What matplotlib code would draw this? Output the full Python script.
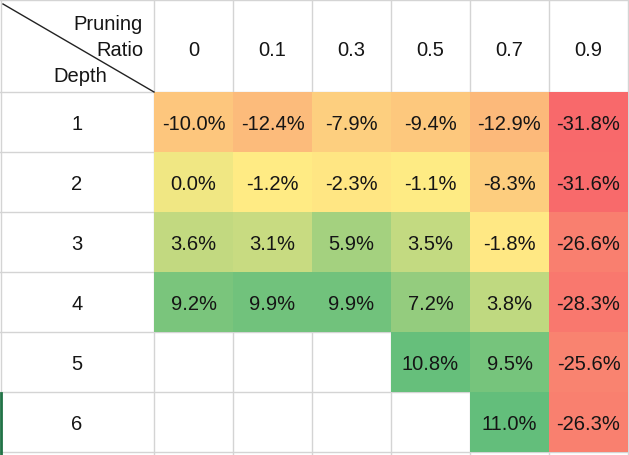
import numpy as np
import matplotlib.pyplot as plt
from matplotlib.patches import Rectangle
from matplotlib.colors import to_rgb

# Pruning ratio columns and depth rows
ratios = ["0", "0.1", "0.3", "0.5", "0.7", "0.9"]
depths = ["1", "2", "3", "4", "5", "6"]

# relative change (%) per depth row, nan = empty cell
row_d1 = [-10.0, -12.4, -7.9, -9.4, -12.9, -31.8]
row_d2 = [0.0, -1.2, -2.3, -1.1, -8.3, -31.6]
row_d3 = [3.6, 3.1, 5.9, 3.5, -1.8, -26.6]
row_d4 = [9.2, 9.9, 9.9, 7.2, 3.8, -28.3]
row_d5 = [np.nan, np.nan, np.nan, 10.8, 9.5, -25.6]
row_d6 = [np.nan, np.nan, np.nan, np.nan, 11.0, -26.3]
values = np.array([row_d1, row_d2, row_d3, row_d4, row_d5, row_d6])

# excel style 3 colour scale: min red, median yellow, max green
c_lo = np.array(to_rgb("#F8696B"))
c_mid = np.array(to_rgb("#FFEB84"))
c_hi = np.array(to_rgb("#63BE7B"))
vals = values[~np.isnan(values)]
vmin, vmed, vmax = vals.min(), np.median(vals), vals.max()

def cell_color(v):
    if v <= vmed:
        t = (v - vmin) / (vmed - vmin)
        return c_lo + t * (c_mid - c_lo)
    t = (v - vmed) / (vmax - vmed)
    return c_mid + t * (c_hi - c_mid)

W, H = 629, 456
fig = plt.figure(figsize=(W / 100, H / 100), dpi=100)
ax = fig.add_axes([0, 0, 1, 1])
ax.set_xlim(0, W)
ax.set_ylim(H, 0)
ax.axis("off")

font = "Liberation Sans"
fs = 14.5
txt_c = "#151515"
grid_c = "#D4D4D4"

# cell edges (pixel layout of the sheet)
x_edges = [0.5, 154] + [154 + 79 * (k + 1) for k in range(len(ratios))]
y_edges = [1, 93] + [93 + 60 * (k + 1) for k in range(len(depths))]

# grid lines
for x in x_edges:
    ax.plot([x, x], [0, H], color=grid_c, lw=1, zorder=1)
for y in y_edges:
    ax.plot([0, W], [y, y], color=grid_c, lw=1, zorder=1)

# coloured cells with labels
for i in range(len(depths)):
    for j in range(len(ratios)):
        v = values[i, j]
        if np.isnan(v):
            continue
        x0, x1 = x_edges[j + 1], x_edges[j + 2]
        y0, y1 = y_edges[i + 1], y_edges[i + 2]
        ax.add_patch(Rectangle((x0, y0), x1 - x0, y1 - y0,
                               facecolor=cell_color(v), edgecolor="none", zorder=2))
        ax.text((x0 + x1) / 2, (y0 + y1) / 2 + 2, f"{v:.1f}%", ha="center", va="center",
                fontsize=fs, family=font, color=txt_c, zorder=3)

# column headers
for j, r in enumerate(ratios):
    ax.text((x_edges[j + 1] + x_edges[j + 2]) / 2, 51, r, ha="center", va="center",
            fontsize=fs, family=font, color=txt_c)

# row headers
for i, d in enumerate(depths):
    ax.text(77, (y_edges[i + 1] + y_edges[i + 2]) / 2 + 2, d, ha="center", va="center",
            fontsize=fs, family=font, color=txt_c)

# corner cell with diagonal split
ax.plot([3, 154], [5, 93], color="#222222", lw=1, zorder=3)
ax.text(143, 24, "Pruning", ha="right", va="center", fontsize=fs, family=font, color=txt_c)
ax.text(143, 51, "Ratio", ha="right", va="center", fontsize=fs, family=font, color=txt_c)
ax.text(53, 76, "Depth", ha="left", va="center", fontsize=fs, family=font, color=txt_c)

# selection marker at left edge
ax.plot([1, 1], [394, H], color="#217346", lw=2, zorder=4)

fig.savefig("out.png", dpi=100)
